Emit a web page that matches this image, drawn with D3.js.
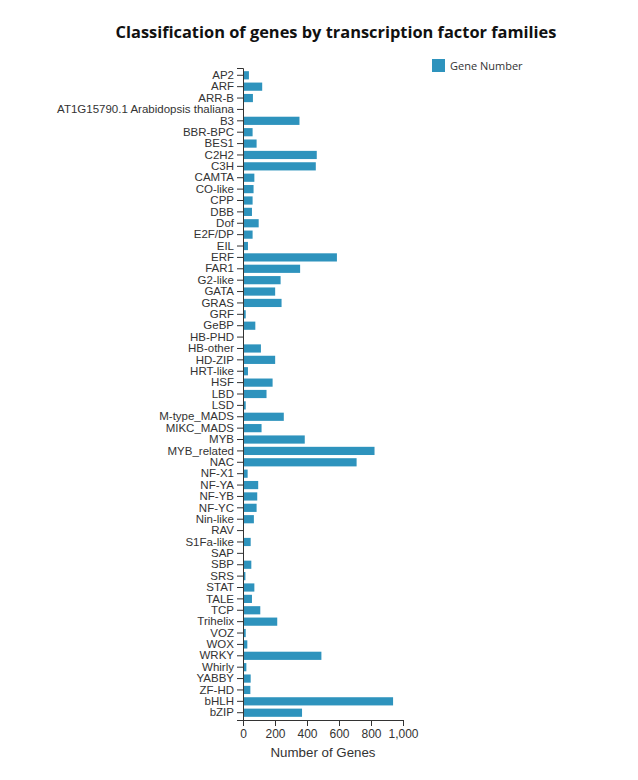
<!DOCTYPE html>
<html>
<head>
<meta charset="utf-8">
<script src="https://cdn.jsdelivr.net/npm/d3@7"></script>
<style>
    body { margin: 0; background: #fff; }
    .axis text { font-family: "Liberation Sans", Arial, sans-serif; font-size: 12px; fill: #333; }
    .axis.yAxis text { font-size: 11.5px; }
    .axis path, .axis line { stroke: #333; }
</style>
</head>
<body>
<svg id="chart" width="638" height="780"></svg>
<script>
// transcription factor families (y axis categories)
const families = [
    "AP2", "ARF", "ARR-B", "AT1G15790.1 Arabidopsis thaliana", "B3", "BBR-BPC", "BES1",
    "C2H2", "C3H", "CAMTA", "CO-like", "CPP", "DBB", "Dof", "E2F/DP", "EIL", "ERF",
    "FAR1", "G2-like", "GATA", "GRAS", "GRF", "GeBP", "HB-PHD", "HB-other", "HD-ZIP",
    "HRT-like", "HSF", "LBD", "LSD", "M-type_MADS", "MIKC_MADS", "MYB", "MYB_related",
    "NAC", "NF-X1", "NF-YA", "NF-YB", "NF-YC", "Nin-like", "RAV", "S1Fa-like", "SAP",
    "SBP", "SRS", "STAT", "TALE", "TCP", "Trihelix", "VOZ", "WOX", "WRKY", "Whirly",
    "YABBY", "ZF-HD", "bHLH", "bZIP"
];

// gene number per family
const geneNumbers = [
    37, 120, 62, 1, 353, 60, 85,
    461, 455, 71, 66, 60, 56, 98, 60, 31, 587,
    357, 235, 201, 241, 17, 77, 2, 112, 201,
    31, 185, 147, 17, 255, 116, 386, 822,
    710, 29, 95, 89, 85, 68, 3, 48, 1,
    52, 15, 71, 56, 108, 214, 17, 27, 490, 21,
    48, 46, 938, 369
];

const xTicks = [0, 200, 400, 600, 800, 1000];

let data = families.map((f, i) => {
    return { family: f, value: geneNumbers[i] };
});

let svg = d3.select("#chart");

let margin = { top: 68, left: 243, right: 235, bottom: 60 };
let width = 638 - margin.left - margin.right;
let height = 720 - margin.top;

let x = d3.scaleLinear()
    .domain([0, 1000])
    .range([0, width]);

let y = d3.scaleBand()
    .domain(families)
    .range([0, height])
    .padding(0.28);

let g = svg.append("g")
    .attr("transform", `translate(${margin.left},${margin.top})`);

g.selectAll("rect.bar")
    .data(data)
    .enter()
    .append("rect")
    .attr("class", "bar")
    .attr("x", 0)
    .attr("y", d => y(d.family))
    .attr("width", d => x(d.value))
    .attr("height", y.bandwidth())
    .attr("fill", "#2e93bd");

g.append("g")
    .attr("class", "axis yAxis")
    .call(d3.axisLeft(y));

g.append("g")
    .attr("class", "axis")
    .attr("transform", `translate(0,${height})`)
    .call(d3.axisBottom(x).tickValues(xTicks).tickFormat(d3.format(",")));

// axis title
svg.append("text")
    .attr("x", margin.left + width / 2)
    .attr("y", 757)
    .attr("text-anchor", "middle")
    .style("font-family", "'Liberation Sans', Arial, sans-serif")
    .style("font-size", "13.3px")
    .style("fill", "#333")
    .text("Number of Genes");

// chart title
svg.append("text")
    .attr("x", 336)
    .attr("y", 38)
    .attr("text-anchor", "middle")
    .style("font-family", "'Open Sans', sans-serif")
    .style("font-weight", "bold")
    .style("font-size", "16.4px")
    .style("fill", "#111")
    .text("Classification of genes by transcription factor families");

// legend
let legend = svg.append("g")
    .attr("transform", "translate(432,59)");
legend.append("rect")
    .attr("width", 13)
    .attr("height", 13)
    .attr("fill", "#2e93bd");
legend.append("text")
    .attr("x", 18)
    .attr("y", 11)
    .style("font-family", "'Open Sans', sans-serif")
    .style("font-size", "11px")
    .style("fill", "#333")
    .text("Gene Number");
</script>
</body>
</html>
